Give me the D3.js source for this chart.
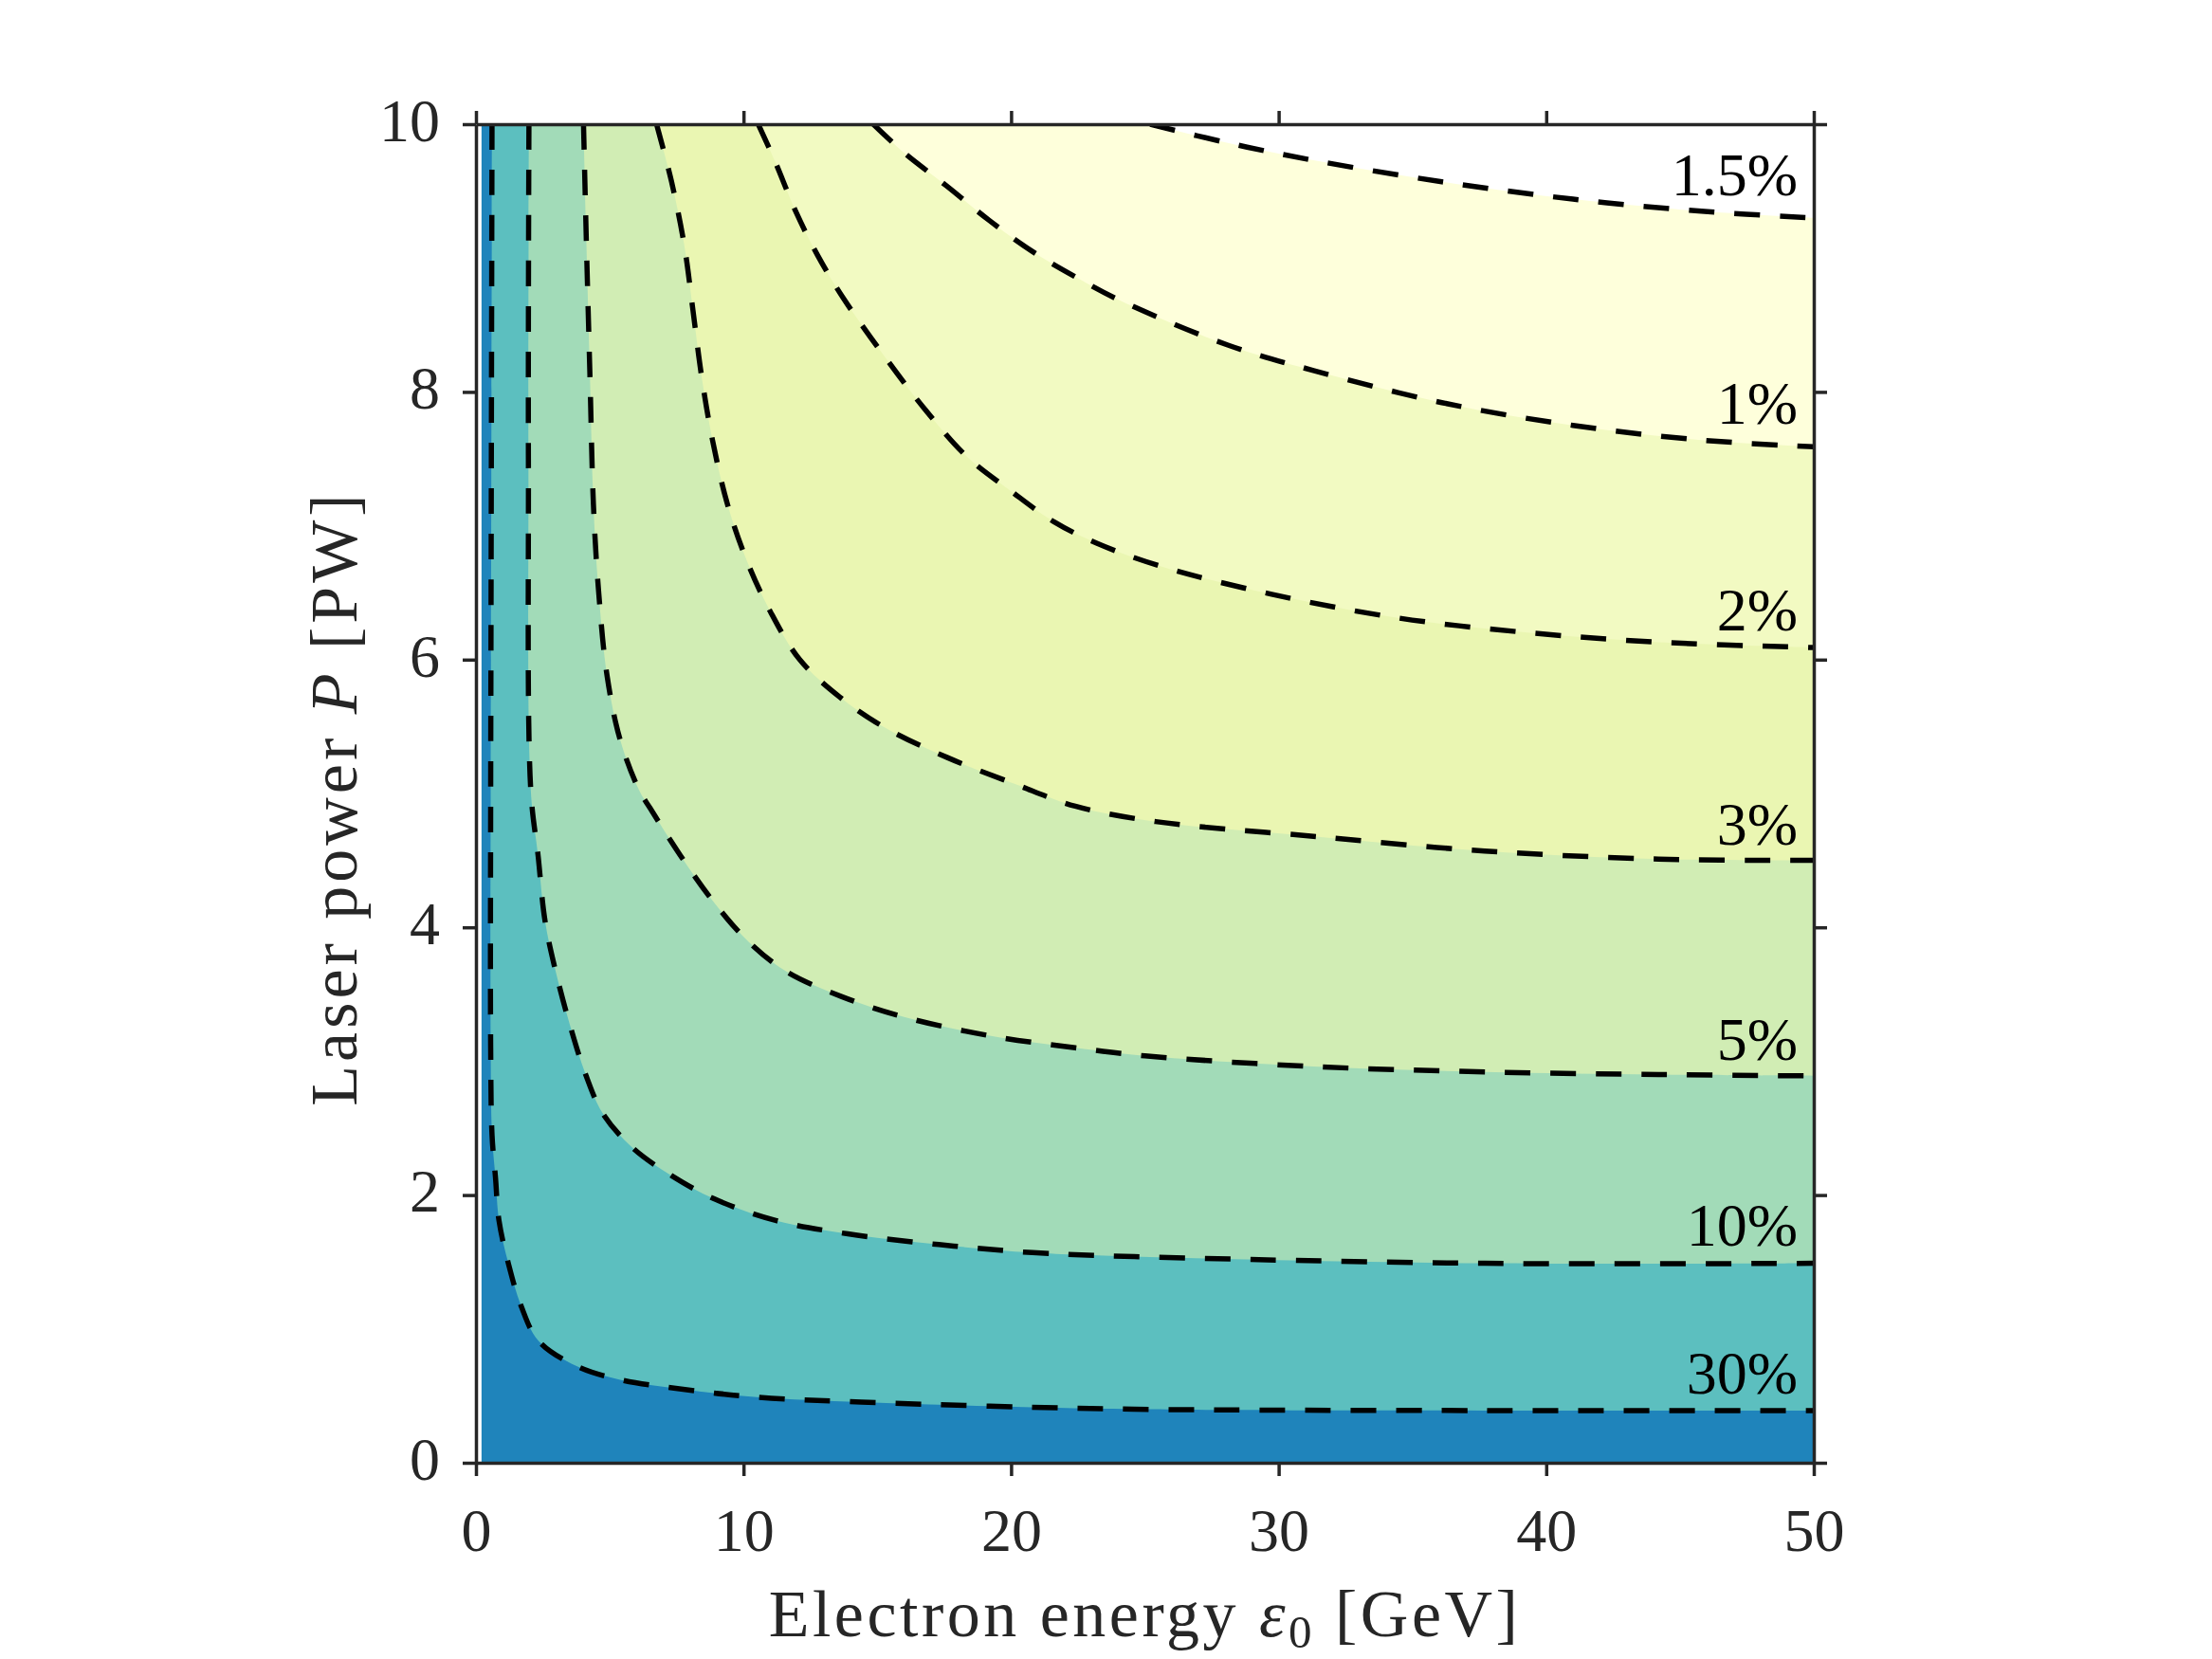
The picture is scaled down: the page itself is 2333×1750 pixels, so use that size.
<!DOCTYPE html>
<html>
<head>
<meta charset="utf-8">
<script src="https://cdn.jsdelivr.net/npm/d3@7"></script>
<style>
  body { margin: 0; background: #ffffff; }
  svg { display: block; }
</style>
</head>
<body>
<svg id="chart" width="2333" height="1750"></svg>
<script>
// ---------- data ----------
const xTicks = [0, 10, 20, 30, 40, 50];
const yTicks = [0, 2, 4, 6, 8, 10];
const xDomain = [0, 50];
const yDomain = [0, 10];
const dataStartX = 0.2;

const contourLabels = ["30%", "10%", "5%", "3%", "2%", "1%", "1.5%"];
const labelX = 49.4;
const labelY = [0.52, 1.62, 3.01, 4.62, 6.22, 7.76, 9.47];

const fillColors = ["#1f84bb", "#5cbfbf", "#a2dbb8", "#d1edb4", "#eaf6b2", "#f2fac2", "#feffdb"];

const c30 = [[0.60,10],[0.58,8],[0.56,6],[0.55,5.0],[0.55,3.1],[0.60,2.45],[0.73,2.13],[0.86,1.81],[1.21,1.49],[1.69,1.17],[2.34,0.91],[3.78,0.72],[5.39,0.62],[7.47,0.556],[10.5,0.49],[14.4,0.453],[19.2,0.423],[24.6,0.40],[37.7,0.39],[50,0.389]];
const c10 = [[1.98,10],[1.96,7.5],[2.05,5.02],[2.32,4.54],[2.58,4.05],[2.98,3.67],[3.54,3.25],[4.10,2.90],[4.74,2.61],[5.87,2.35],[7.31,2.145],[8.92,1.97],[11.2,1.81],[13.9,1.71],[17.3,1.63],[20.8,1.57],[24.6,1.54],[37.7,1.49],[50,1.49]];
const c5 = [[4.02,10],[4.13,9.09],[4.26,8.12],[4.39,7.16],[4.58,6.52],[4.90,5.88],[5.39,5.40],[6.11,5.02],[6.51,4.89],[7.63,4.54],[8.92,4.18],[10.2,3.89],[11.6,3.67],[13.7,3.48],[16.0,3.33],[19.2,3.19],[22.4,3.10],[25.0,3.04],[31.3,2.96],[37.7,2.92],[44.2,2.90],[50,2.89]];
const c3 = [[6.75,10],[7.31,9.57],[7.79,9.09],[8.11,8.61],[8.43,8.12],[8.84,7.64],[9.40,7.16],[10.12,6.74],[11.0,6.36],[12.1,6.00],[13.6,5.72],[15.3,5.49],[17.6,5.27],[20.15,5.07],[22.4,4.905],[25.4,4.79],[31.3,4.68],[37.7,4.57],[44.2,4.51],[50,4.50]];
const c2 = [[10.55,10],[11.16,9.73],[11.97,9.34],[12.77,9.02],[13.73,8.70],[15.18,8.29],[16.78,7.87],[18.38,7.51],[19.99,7.26],[21.6,7.03],[23.2,6.87],[25.55,6.70],[29.7,6.49],[34.5,6.31],[39.4,6.20],[44.2,6.13],[50,6.09]];
const c1 = [[14.85,10],[15.98,9.79],[17.58,9.54],[19.19,9.28],[20.79,9.05],[22.4,8.86],[24.0,8.69],[28.1,8.35],[31.3,8.16],[36.1,7.92],[41.0,7.75],[45.8,7.64],[50,7.59]];
const c15 = [[25.2,10],[28.1,9.86],[31.3,9.73],[36.1,9.57],[41.0,9.44],[45.8,9.35],[50,9.30]];
const contours = [c30, c10, c5, c3, c2, c1, c15];

// ---------- layout ----------
const padL = 502, padR = 1913, padT = 131, padB = 1543;
const x = d3.scaleLinear(xDomain, [padL, padR]);
const y = d3.scaleLinear(yDomain, [padB, padT]);

const svg = d3.select("#chart");
const FONT = "'Liberation Serif', 'Times New Roman', serif";
const AXIS_COLOR = "#262626";

svg.append("defs").append("clipPath").attr("id", "plotclip")
  .append("rect")
  .attr("x", x(dataStartX)).attr("y", y(10))
  .attr("width", x(50) - x(dataStartX)).attr("height", y(0) - y(10));

const plot = svg.append("g").attr("clip-path", "url(#plotclip)");

// base region (below lowest contour)
plot.append("rect")
  .attr("x", x(dataStartX)).attr("y", y(10))
  .attr("width", x(50) - x(dataStartX)).attr("height", y(0) - y(10))
  .attr("fill", fillColors[0]);

const line = d3.line().x(d => x(d[0])).y(d => y(d[1])).curve(d3.curveCatmullRom.alpha(0.5));

// filled regions above each contour
contours.forEach((pts, i) => {
  const fill = i + 1 < fillColors.length ? fillColors[i + 1] : "#ffffff";
  plot.append("path")
    .attr("d", line(pts) + `L${x(50)},${y(10)}Z`)
    .attr("fill", fill)
    .attr("stroke", "none");
});

// dashed contour lines
contours.forEach(pts => {
  plot.append("path")
    .attr("d", line(pts))
    .attr("fill", "none")
    .attr("stroke", "#000")
    .attr("stroke-width", 5.5)
    .attr("stroke-dasharray", "27 21");
});

// contour labels
svg.append("g").selectAll("text")
  .data(contourLabels)
  .join("text")
  .attr("x", x(labelX))
  .attr("y", (d, i) => y(labelY[i]))
  .attr("text-anchor", "end")
  .attr("font-family", FONT)
  .attr("font-size", 64)
  .attr("fill", "#000")
  .text(d => d);

// ---------- axes ----------
function styleAxis(g) {
  g.selectAll("path.domain").attr("stroke", AXIS_COLOR).attr("stroke-width", 3.5);
  g.selectAll(".tick line").attr("stroke", AXIS_COLOR).attr("stroke-width", 3.5);
  g.selectAll(".tick text").attr("fill", AXIS_COLOR).attr("font-family", FONT).attr("font-size", 64);
}

const gx = svg.append("g").attr("transform", `translate(0,${padB})`)
  .call(d3.axisBottom(x).tickValues(xTicks).tickSize(14).tickSizeOuter(0).tickPadding(34).tickFormat(d3.format("d")));
styleAxis(gx);

const gxt = svg.append("g").attr("transform", `translate(0,${padT})`)
  .call(d3.axisTop(x).tickValues(xTicks).tickSize(14).tickSizeOuter(0).tickFormat(""));
styleAxis(gxt);

const gy = svg.append("g").attr("transform", `translate(${padL},0)`)
  .call(d3.axisLeft(y).tickValues(yTicks).tickSize(14).tickSizeOuter(0).tickPadding(24).tickFormat(d3.format("d")));
styleAxis(gy);
gy.selectAll(".tick text").attr("dy", "0.27em");

const gyr = svg.append("g").attr("transform", `translate(${padR},0)`)
  .call(d3.axisRight(y).tickValues(yTicks).tickSize(14).tickSizeOuter(0).tickFormat(""));
styleAxis(gyr);

// axis titles
const xt = svg.append("text")
  .attr("x", (padL + padR) / 2)
  .attr("y", 1726)
  .attr("text-anchor", "middle")
  .attr("font-family", FONT)
  .attr("font-size", 70)
  .attr("letter-spacing", "3.5px")
  .attr("fill", AXIS_COLOR);
xt.append("tspan").text("Electron energy ");
xt.append("tspan").attr("font-style", "italic").text("ε");
xt.append("tspan").attr("font-size", 49).attr("dy", 12).text("0");
xt.append("tspan").attr("dy", -12).text(" [GeV]");

const yt = svg.append("text")
  .attr("transform", `translate(376,${(padT + padB) / 2 + 5}) rotate(-90)`)
  .attr("text-anchor", "middle")
  .attr("font-family", FONT)
  .attr("font-size", 70)
  .attr("letter-spacing", "4px")
  .attr("fill", AXIS_COLOR);
yt.append("tspan").text("Laser power ");
yt.append("tspan").attr("font-style", "italic").text("P");
yt.append("tspan").text(" [PW]");
</script>
</body>
</html>
